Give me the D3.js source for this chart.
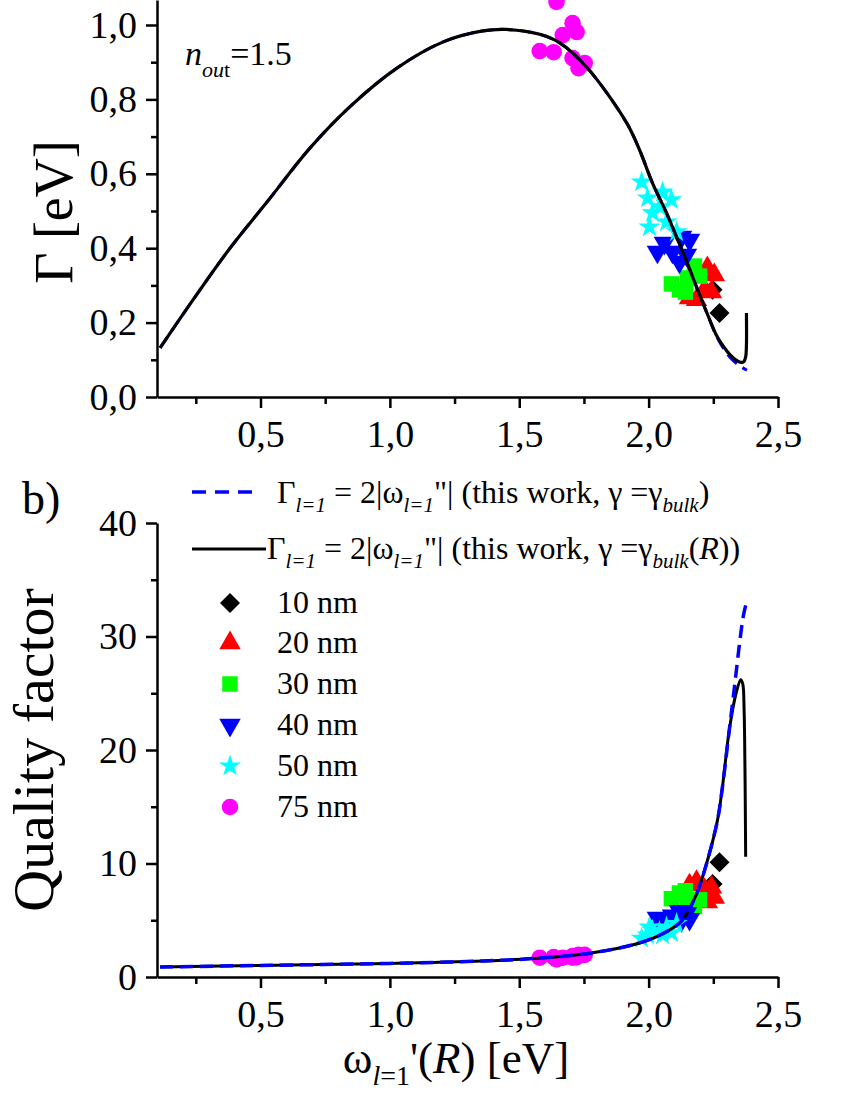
<!DOCTYPE html>
<html>
<head>
<meta charset="utf-8">
<script src="https://cdn.jsdelivr.net/npm/d3@7"></script>
<style>
  body { margin: 0; background: #fff; }
  svg { display: block; }
  text { font-family: "Liberation Serif", "Times New Roman", serif; fill: #000; }
</style>
</head>
<body>
<div id="chart"></div>
<script>
// particle sizes, colours and marker shapes
var sizeLabels = ["10 nm", "20 nm", "30 nm", "40 nm", "50 nm", "75 nm"];
var sizeColors = ["#000000", "#ff0000", "#00ff00", "#0000ff", "#00ffff", "#ff00ff"];
var sizeShapes = ["diamond", "triangle", "square", "triangleDown", "star", "circle"];

// measured points: omega' [eV], Gamma [eV], quality factor
var w10 = [2.247, 2.274];
var g10 = [0.288, 0.226];
var q10 = [8.2, 10.1];

var w20 = [2.227, 2.254, 2.158, 2.185, 2.216, 2.243];
var g20 = [0.347, 0.328, 0.266, 0.261, 0.288, 0.282];
var q20 = [6.6, 7.0, 8.1, 8.4, 7.7, 7.9];

var w30 = [2.088, 2.119, 2.150, 2.177, 2.197, 2.142];
var g30 = [0.304, 0.288, 0.320, 0.352, 0.325, 0.282];
var q30 = [6.9, 7.4, 6.7, 6.2, 6.8, 7.6];

var w40 = [2.127, 2.158, 2.061, 2.034, 2.092, 2.119, 2.146];
var g40 = [0.430, 0.422, 0.414, 0.390, 0.390, 0.363, 0.382];
var q40 = [5.0, 5.1, 5.0, 5.2, 5.4, 5.8, 5.6];

var w50 = [1.973, 1.996, 2.054, 2.088, 2.015, 2.069, 2.003, 2.108, 2.042];
var g50 = [0.578, 0.535, 0.551, 0.530, 0.495, 0.470, 0.457, 0.444, 0.511];
var q50 = [3.4, 3.7, 3.7, 3.9, 4.1, 4.4, 4.4, 4.7, 4.0];

var w75 = [1.644, 1.706, 1.722, 1.668, 1.579, 1.633, 1.706, 1.753, 1.729];
var g75 = [1.062, 1.005, 0.981, 0.973, 0.930, 0.927, 0.911, 0.898, 0.884];
var q75 = [1.55, 1.7, 1.75, 1.7, 1.7, 1.75, 1.85, 1.95, 1.95];

// theory, gamma = gamma_bulk(R) (solid black)
var topW_R = [0.112, 0.239, 0.382, 0.525, 0.691, 0.845, 1.027, 1.204, 1.359, 1.45, 1.579, 1.656, 1.76, 1.915, 1.965, 2.015, 2.069, 2.108, 2.146, 2.185, 2.224, 2.262, 2.29, 2.315, 2.338, 2.356, 2.368, 2.375, 2.378, 2.378];
var topG_R = [0.132, 0.261, 0.400, 0.524, 0.669, 0.780, 0.884, 0.954, 0.984, 0.988, 0.975, 0.952, 0.887, 0.737, 0.664, 0.575, 0.495, 0.430, 0.366, 0.296, 0.228, 0.166, 0.135, 0.113, 0.099, 0.093, 0.095, 0.108, 0.140, 0.226];
// theory, gamma = gamma_bulk (dashed blue)
var topW_bulk = [0.112, 0.239, 0.382, 0.525, 0.691, 0.845, 1.027, 1.204, 1.359, 1.45, 1.579, 1.656, 1.76, 1.915, 1.965, 2.015, 2.069, 2.108, 2.146, 2.185, 2.224, 2.262, 2.29, 2.315, 2.338, 2.36, 2.38];
var topG_bulk = [0.132, 0.261, 0.400, 0.524, 0.669, 0.780, 0.884, 0.954, 0.984, 0.988, 0.975, 0.952, 0.887, 0.737, 0.664, 0.575, 0.495, 0.430, 0.366, 0.296, 0.228, 0.164, 0.130, 0.106, 0.091, 0.080, 0.072];

var botW_R = [0.112, 0.5, 1.0, 1.36, 1.55, 1.772, 1.965, 2.07, 2.13, 2.185, 2.224, 2.266, 2.285, 2.312, 2.338, 2.356, 2.364, 2.369, 2.372, 2.374, 2.375];
var botQ_R = [0.88, 1.02, 1.2, 1.41, 1.62, 2.1, 3.0, 4.0, 5.0, 7.3, 10.0, 13.8, 16.7, 21.8, 25.0, 26.2, 25.8, 23.5, 19, 14, 10.6];
var botW_bulk = [0.112, 0.5, 1.0, 1.36, 1.55, 1.772, 1.965, 2.07, 2.13, 2.185, 2.224, 2.266, 2.285, 2.312, 2.334, 2.352, 2.366, 2.378];
var botQ_bulk = [0.88, 1.02, 1.2, 1.41, 1.62, 2.1, 3.0, 4.0, 5.0, 7.3, 10.0, 13.8, 16.7, 21.8, 26.0, 29.5, 31.8, 33.0];

// ticks
var xMajor = [0.5, 1.0, 1.5, 2.0, 2.5];
var xMinor = [0.25, 0.75, 1.25, 1.75, 2.25];
var gMajor = [0, 0.2, 0.4, 0.6, 0.8, 1.0];
var gMinor = [0.1, 0.3, 0.5, 0.7, 0.9];
var qMajor = [0, 10, 20, 30, 40];
var qMinor = [5, 15, 25, 35];

var W = 850, H = 1100;
var svg = d3.select("#chart").append("svg").attr("width", W).attr("height", H);

var x = d3.scaleLinear().domain([0.1, 2.5]).range([157, 778]);
var yG = d3.scaleLinear().domain([0, 1.0672]).range([397, 0]);
var yQ = d3.scaleLinear().domain([0, 40]).range([977, 523]);

var comma = function (d) { return d.toFixed(1).replace(".", ","); };

function axes(yScale, yMajor, yMinor, yFmt) {
    var y0 = yScale.range()[0];
    var g = svg.append("g");

    var gx = g.append("g").attr("transform", "translate(0," + y0 + ")")
        .call(d3.axisBottom(x).tickValues(xMajor).tickSize(11).tickSizeOuter(0).tickFormat(comma));
    gx.selectAll("text").attr("dy", null).attr("y", 50);
    g.append("g").attr("transform", "translate(0," + y0 + ")")
        .call(d3.axisBottom(x).tickValues(xMinor).tickSize(7).tickFormat(""))
        .select(".domain").remove();

    g.append("g").attr("transform", "translate(157,0)")
        .call(d3.axisLeft(yScale).tickValues(yMajor).tickSize(11).tickSizeOuter(0).tickPadding(9).tickFormat(yFmt));
    g.append("g").attr("transform", "translate(157,0)")
        .call(d3.axisLeft(yScale).tickValues(yMinor).tickSize(6).tickFormat(""))
        .select(".domain").remove();

    g.selectAll("path, line").attr("stroke", "#000").attr("stroke-width", 2.5);
    g.selectAll("text").attr("font-size", 38).attr("fill", "#000");
}

axes(yG, gMajor, gMinor, comma);
axes(yQ, qMajor, qMinor, d3.format("d"));

function symbolFor(shape) {
    var gen = d3.symbol();
    if (shape === "diamond") return gen.type(d3.symbolSquare).size(200)();
    if (shape === "square") return gen.type(d3.symbolSquare).size(240)();
    if (shape === "triangle" || shape === "triangleDown") return gen.type(d3.symbolTriangle).size(200)();
    if (shape === "star") return gen.type(d3.symbolStar).size(150)();
    return gen.type(d3.symbolCircle).size(215)();
}
function rot(shape) {
    if (shape === "diamond") return " rotate(45)";
    if (shape === "triangleDown") return " rotate(180)";
    return "";
}

var wSets = [w10, w20, w30, w40, w50, w75];
var gSets = [g10, g20, g30, g40, g50, g75];
var qSets = [q10, q20, q30, q40, q50, q75];

function markers(ySets, yScale) {
    wSets.forEach(function (ws, i) {
        var pts = ws.map(function (w, j) { return [w, ySets[i][j]]; });
        svg.append("g").selectAll("path")
            .data(pts)
            .enter()
            .append("path")
            .attr("d", symbolFor(sizeShapes[i]))
            .attr("transform", function (d) { return "translate(" + x(d[0]) + "," + yScale(d[1]) + ")" + rot(sizeShapes[i]); })
            .attr("fill", sizeColors[i]);
    });
}

function curve(ws, vs, yScale, color, width, dash) {
    var line = d3.line()
        .x(function (d) { return x(d[0]); })
        .y(function (d) { return yScale(d[1]); })
        .curve(d3.curveCatmullRom.alpha(0.5));
    svg.append("path")
        .datum(ws.map(function (w, i) { return [w, vs[i]]; }))
        .attr("d", line)
        .attr("fill", "none")
        .attr("stroke", color)
        .attr("stroke-width", width)
        .attr("stroke-dasharray", dash);
}

// a) panel
markers(gSets, yG);
curve(topW_bulk, topG_bulk, yG, "#0000ff", 3, "13,7");
curve(topW_R, topG_R, yG, "#000", 3.2, null);

// b) panel
markers(qSets, yQ);
curve(botW_R, botQ_R, yQ, "#000", 3, null);
curve(botW_bulk, botQ_bulk, yQ, "#0000ff", 3.5, "13,7");

// texts
var nout = svg.append("text").attr("x", 185).attr("y", 65).attr("font-size", 34);
nout.append("tspan").attr("font-style", "italic").text("n");
nout.append("tspan").attr("font-style", "italic").attr("font-size", 22).attr("dy", 12).text("ou");
nout.append("tspan").attr("font-size", 22).text("t");
nout.append("tspan").attr("dy", -12).text("=1.5");

svg.append("text").attr("transform", "translate(72,212) rotate(-90)")
    .attr("text-anchor", "middle").attr("font-size", 54).text("Γ [eV]");
svg.append("text").attr("transform", "translate(53,750) rotate(-90)")
    .attr("text-anchor", "middle").attr("font-size", 58).text("Quality factor");

svg.append("text").attr("x", 22).attr("y", 514).attr("font-size", 46).text("b)");

var xl = svg.append("text").attr("x", 456).attr("y", 1073).attr("text-anchor", "middle").attr("font-size", 45);
xl.append("tspan").text("ω");
xl.append("tspan").attr("font-size", 28).attr("dy", 12).attr("font-style", "italic").text("l");
xl.append("tspan").attr("font-size", 28).text("=1");
xl.append("tspan").attr("dy", -12).text("'(");
xl.append("tspan").attr("font-style", "italic").text("R");
xl.append("tspan").text(") [eV]");

// legend: theory lines
function gammaLabel(sel, withR) {
    var sub = function (s) {
        sel.append("tspan").attr("font-size", 21).attr("font-style", "italic").attr("dy", 9).text(s);
    };
    sel.append("tspan").text("Γ");
    sub("l=1");
    sel.append("tspan").attr("dy", -9).text(" = 2|ω");
    sub("l=1");
    sel.append("tspan").attr("dy", -9).text("\"| (this work, γ =γ");
    sub("bulk");
    if (withR) {
        sel.append("tspan").attr("dy", -9).text("(");
        sel.append("tspan").attr("font-style", "italic").text("R");
        sel.append("tspan").text("))");
    } else {
        sel.append("tspan").attr("dy", -9).text(")");
    }
}
svg.append("line").attr("x1", 192).attr("x2", 258).attr("y1", 492).attr("y2", 492)
    .attr("stroke", "#0000ff").attr("stroke-width", 3.5).attr("stroke-dasharray", "14,9");
gammaLabel(svg.append("text").attr("x", 277).attr("y", 503).attr("font-size", 32), false);
svg.append("line").attr("x1", 192).attr("x2", 266).attr("y1", 549).attr("y2", 549)
    .attr("stroke", "#000").attr("stroke-width", 3);
gammaLabel(svg.append("text").attr("x", 267).attr("y", 559).attr("font-size", 32), true);

// legend: particle sizes
var legendY = [603, 643, 684, 725, 766, 807];
sizeLabels.forEach(function (lab, i) {
    svg.append("path")
        .attr("d", symbolFor(sizeShapes[i]))
        .attr("transform", "translate(230," + legendY[i] + ")" + rot(sizeShapes[i]))
        .attr("fill", sizeColors[i]);
    svg.append("text").attr("x", 277).attr("y", legendY[i] + 10).attr("font-size", 32).text(lab);
});
</script>
</body>
</html>
